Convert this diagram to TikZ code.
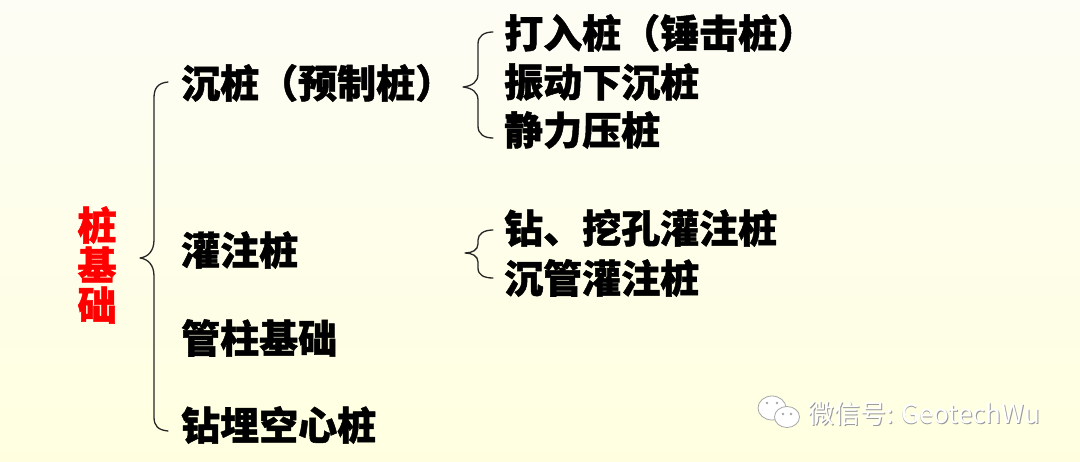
\documentclass[tikz,border=0pt]{standalone}
\usepackage{fontspec}
\newfontfamily\cjk{Noto Sans CJK SC}[BoldFeatures={FakeBold=1.2}]
\usetikzlibrary{calc}
\definecolor{bgtop}{RGB}{253,253,245}
\definecolor{bgbot}{RGB}{255,255,224}
\definecolor{txred}{RGB}{255,0,0}
\tikzset{
  item/.style={anchor=west, inner sep=0pt, font=\cjk\bfseries\fontsize{39}{40}\selectfont, text=black},
  rootlbl/.style={inner sep=0pt, align=center, font=\cjk\bfseries\fontsize{39}{40}\selectfont, text=txred},
  bracepath/.style={draw=black!85, line width=1.3pt, line cap=round, line join=round},
  wmtext/.style={anchor=west, inner sep=0pt, font=\cjk\fontsize{26}{28}\selectfont},
}
\begin{document}
\begin{tikzpicture}[x=1pt,y=-1pt]
\shade[top color=bgtop, bottom color=bgbot] (0,0) rectangle (1080,462);
\useasboundingbox (0,0) rectangle (1080,462);
% root
\node[rootlbl] (root) at (97,265) {桩\\基\\础};
% level 1
\node[item] (a) at (181,83) {沉桩（预制桩）};
\node[item] (b) at (181,250) {灌注桩};
\node[item] (c) at (181,338) {管柱基础};
\node[item] (d) at (181,425) {钻埋空心桩};
% level 2
\node[item] (a1) at (504,33) {打入桩（锤击桩）};
\node[item] (a2) at (504,82) {振动下沉桩};
\node[item] (a3) at (504,130) {静力压桩};
\node[item] (b1) at (504,228) {钻、挖孔灌注桩};
\node[item] (b2) at (504,278) {沉管灌注桩};
% big brace
\coordinate (B0t) at (168,82);
\coordinate (B0m) at (140,258);
\coordinate (B0b) at (168,431);
\draw[bracepath] (B0t) .. controls (158,83) and (154,88) .. (154,98)
  -- (154,240) .. controls (154,251) and (148,257) .. (B0m)
  .. controls (148,259) and (154,265) .. (154,276)
  -- (154,417) .. controls (154,426) and (158,430) .. (B0b);
% brace 1
\coordinate (B1t) at (493,32);
\coordinate (B1m) at (463,87);
\coordinate (B1b) at (493,138);
\draw[bracepath] (B1t) .. controls (484,32) and (478,36) .. (478,44)
  -- (478,74) .. controls (478,82) and (472,86) .. (B1m)
  .. controls (472,88) and (478,92) .. (478,100)
  -- (478,126) .. controls (478,134) and (484,138) .. (B1b);
% brace 2
\coordinate (B2t) at (493,230);
\coordinate (B2m) at (465,253);
\coordinate (B2b) at (493,278);
\draw[bracepath] (B2t) .. controls (484,230) and (478,234) .. (478,240)
  -- (478,244) .. controls (478,250) and (472,253) .. (B2m)
  .. controls (472,253) and (478,256) .. (478,262)
  -- (478,268) .. controls (478,275) and (484,278) .. (B2b);
% watermark icon
\begin{scope}[draw=black!35, line width=0.8pt, fill=white]
\filldraw (772,408) ellipse [x radius=14, y radius=12];
\filldraw (787,417) ellipse [x radius=12.5, y radius=10.5];
\fill[black!35] (767,403) circle (1.4) (777,403) circle (1.4)
  (783,414) circle (1.3) (791,414) circle (1.3);
\end{scope}
% watermark text
\node[wmtext, text=black!40] (wms) at (808.8,414.8) {微信号: GeotechWu};
\node[wmtext, text=white] (wm) at (808,414) {微信号: GeotechWu};
\end{tikzpicture}
\end{document}
